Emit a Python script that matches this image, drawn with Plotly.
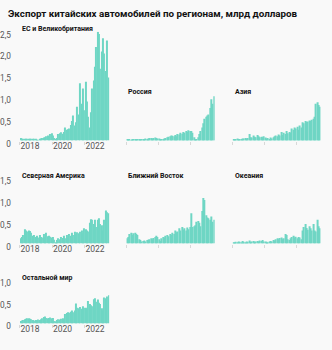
import pandas as pd
import plotly.graph_objects as go

# Monthly export value, billion USD, Jan 2018 - Jun 2023
months = pd.date_range("2018-01-01", periods=66, freq="MS")

eu_uk = [0.06, 0.04, 0.03, 0.03, 0.03, 0.03, 0.03, 0.03, 0.03, 0.03, 0.03, 0.03,
         0.01, 0.01, 0.04, 0.05, 0.06, 0.07, 0.08, 0.10, 0.12, 0.10, 0.15, 0.17,
         0.12, 0.06, 0.03, 0.06, 0.15, 0.17, 0.19, 0.16, 0.20, 0.30, 0.25, 0.26,
         0.28, 0.36, 0.45, 0.58, 0.35, 0.42, 0.78, 0.60, 1.32, 0.85, 1.20, 0.70,
         1.35, 0.90, 0.55, 0.30, 0.65, 1.20, 1.38, 1.70, 2.15, 2.50, 2.45, 1.65,
         2.05, 2.35, 2.00, 1.60, 2.30, 1.45]

russia = [0.04, 0.03, 0.02, 0.01, 0.02, 0.03, 0.02, 0.02, 0.03, 0.03, 0.03, 0.02,
          0.03, 0.04, 0.05, 0.04, 0.05, 0.06, 0.06, 0.05, 0.06, 0.07, 0.06, 0.05,
          0.05, 0.03, 0.02, 0.03, 0.05, 0.06, 0.08, 0.09, 0.10, 0.12, 0.11, 0.10,
          0.13, 0.10, 0.15, 0.14, 0.18, 0.16, 0.20, 0.18, 0.22, 0.20, 0.24, 0.22,
          0.22, 0.18, 0.08, 0.04, 0.03, 0.08, 0.15, 0.22, 0.30, 0.40, 0.50, 0.55,
          0.58, 0.60, 0.75, 0.95, 0.85, 1.02]

asia = [0.02, 0.02, 0.03, 0.05, 0.03, 0.02, 0.04, 0.05, 0.05, 0.06, 0.05, 0.06,
        0.15, 0.08, 0.07, 0.12, 0.09, 0.08, 0.13, 0.10, 0.08, 0.09, 0.08, 0.10,
        0.07, 0.05, 0.06, 0.04, 0.07, 0.05, 0.08, 0.10, 0.12, 0.10, 0.14, 0.12,
        0.20, 0.13, 0.18, 0.15, 0.22, 0.17, 0.20, 0.18, 0.28, 0.25, 0.30, 0.28,
        0.32, 0.25, 0.35, 0.30, 0.42, 0.40, 0.45, 0.43, 0.44, 0.46, 0.45, 0.48,
        0.50, 0.55, 0.85, 0.88, 0.82, 0.78]

north_america = [0.12, 0.15, 0.20, 0.33, 0.30, 0.28, 0.30, 0.29, 0.25, 0.18, 0.20, 0.15,
                 0.18, 0.14, 0.20, 0.15, 0.14, 0.22, 0.15, 0.25, 0.17, 0.18, 0.16, 0.14,
                 0.15, 0.09, 0.02, 0.08, 0.12, 0.10, 0.15, 0.13, 0.18, 0.12, 0.20, 0.14,
                 0.22, 0.18, 0.25, 0.20, 0.27, 0.22, 0.26, 0.24, 0.27, 0.30, 0.24, 0.35,
                 0.33, 0.30, 0.28, 0.48, 0.56, 0.55, 0.45, 0.55, 0.38, 0.55, 0.58, 0.45,
                 0.42, 0.30, 0.55, 0.76, 0.72, 0.70]

middle_east = [0.12, 0.15, 0.22, 0.25, 0.20, 0.24, 0.25, 0.22, 0.20, 0.10, 0.08, 0.05,
               0.06, 0.07, 0.05, 0.08, 0.09, 0.10, 0.12, 0.10, 0.13, 0.15, 0.18, 0.15,
               0.10, 0.06, 0.12, 0.15, 0.14, 0.18, 0.20, 0.17, 0.22, 0.20, 0.25, 0.22,
               0.30, 0.26, 0.28, 0.35, 0.30, 0.38, 0.32, 0.35, 0.30, 0.37, 0.33, 0.38,
               0.70, 0.38, 0.40, 0.42, 0.50, 0.52, 0.48, 0.40, 0.75, 1.05, 1.00, 0.65,
               0.60, 0.58, 0.55, 0.62, 0.50, 0.55]

oceania = [0.03, 0.02, 0.04, 0.03, 0.05, 0.04, 0.03, 0.06, 0.04, 0.03, 0.05, 0.04,
           0.07, 0.04, 0.05, 0.06, 0.04, 0.05, 0.06, 0.05, 0.07, 0.06, 0.08, 0.05,
           0.05, 0.04, 0.03, 0.05, 0.06, 0.05, 0.08, 0.07, 0.10, 0.12, 0.10, 0.13,
           0.14, 0.10, 0.12, 0.22, 0.20, 0.10, 0.08, 0.12, 0.15, 0.18, 0.14, 0.16,
           0.12, 0.15, 0.14, 0.10, 0.30, 0.38, 0.45, 0.36, 0.32, 0.40, 0.35, 0.30,
           0.45, 0.30, 0.28, 0.55, 0.40, 0.35]

rest_of_world = [0.06, 0.07, 0.08, 0.10, 0.11, 0.12, 0.12, 0.11, 0.10, 0.08, 0.07, 0.08,
                 0.07, 0.09, 0.08, 0.10, 0.12, 0.15, 0.16, 0.13, 0.12, 0.13, 0.14, 0.12,
                 0.13, 0.06, 0.05, 0.08, 0.10, 0.09, 0.11, 0.12, 0.10, 0.22, 0.24, 0.26,
                 0.25, 0.27, 0.30, 0.26, 0.30, 0.46, 0.36, 0.35, 0.38, 0.34, 0.40, 0.36,
                 0.36, 0.34, 0.52, 0.45, 0.42, 0.40, 0.56, 0.58, 0.50, 0.55, 0.48, 0.45,
                 0.35, 0.30, 0.60, 0.58, 0.62, 0.65]

region_names = ["ЕС и Великобритания", "Россия", "Азия", "Северная Америка",
                "Ближний Восток", "Океания", "Остальной мир"]
region_values = [eu_uk, russia, asia, north_america, middle_east, oceania, rest_of_world]

year_ticks = ["2018-01-01", "2020-01-01", "2022-01-01"]
year_labels = ["2018", "2020", "2022"]

title_text = "Экспорт китайских автомобилей по регионам, млрд долларов"

W, H = 332, 350
BAR = "#6fd6c4"
BG = "#f9f9f9"
FONT = "Roboto"
PX_PER_UNIT = 44.8

# column left/right edges (px)
cols = [(19, 108.5), (125.7, 214.3), (232.3, 320.7)]
# panel: (column, baseline px, y max, shows value axis)
layout_spec = [
    (0, 142.7, 2.5, True),
    (1, 142.7, 1.05, False),
    (2, 142.7, 1.05, False),
    (0, 248.7, 1.5, True),
    (1, 248.7, 1.5, False),
    (2, 248.7, 1.5, False),
    (0, 331.0, 1.0, True),
]

bar_x = months + pd.Timedelta(days=15)

fig = go.Figure()
annotations = []
for k, (name, vals, spec) in enumerate(zip(region_names, region_values, layout_spec)):
    col, base, ymax, show_y = spec
    x0, x1 = cols[col]
    top = base - ymax * PX_PER_UNIT
    sfx = "" if k == 0 else str(k + 1)
    fig.add_trace(go.Bar(x=bar_x, y=vals, marker_color=BAR, marker_line_width=0,
                         xaxis="x" + sfx, yaxis="y" + sfx, showlegend=False,
                         hoverinfo="skip"))
    yt = [v / 2 for v in range(0, int(round(ymax * 2)) + 1)]
    yl = ["0" if v == 0 else f"{v:.1f}".replace(".", ",") for v in yt]
    fig.layout["xaxis" + sfx] = dict(
        domain=[x0 / W, x1 / W], anchor="y" + sfx, type="date",
        range=["2018-01-01", "2023-07-01"],
        tickvals=year_ticks, ticktext=year_labels, showticklabels=show_y,
        ticks="outside", ticklen=3, tickwidth=1, tickcolor="#d8d8d8",
        ticklabelposition="outside right", ticklabelstandoff=-3,
        tickfont=dict(family=FONT, size=8.5, color="#555"),
        showgrid=False, zeroline=False, showline=False, fixedrange=True,
    )
    fig.layout["yaxis" + sfx] = dict(
        domain=[1 - base / H, 1 - top / H], anchor="x" + sfx,
        range=[0, ymax], tickvals=yt, ticktext=yl, showticklabels=show_y,
        ticks="", ticklabelshift=3, ticklabelstandoff=8,
        tickfont=dict(family=FONT, size=8.3, color="#555"),
        showgrid=False, zeroline=False, showline=False, fixedrange=True,
    )
    annotations.append(dict(
        text=f"<b>{name}</b>", x=x0 / W, y=1 - (top - 2.5) / H,
        xref="paper", yref="paper", xanchor="left", yanchor="middle",
        showarrow=False, font=dict(family=FONT, size=7, color="#111"),
    ))

annotations.append(dict(
    text=f"<b>{title_text}</b>", x=5 / W, y=1 - 11.5 / H,
    xref="paper", yref="paper", xanchor="left", yanchor="middle",
    showarrow=False, font=dict(family=FONT, size=9.8, color="#111"),
))

fig.update_layout(
    width=W, height=H, margin=dict(l=0, r=0, t=0, b=0),
    paper_bgcolor=BG, plot_bgcolor=BG, bargap=0.18,
    annotations=annotations,
)

fig.write_html("out.html", config={"displayModeBar": False})
